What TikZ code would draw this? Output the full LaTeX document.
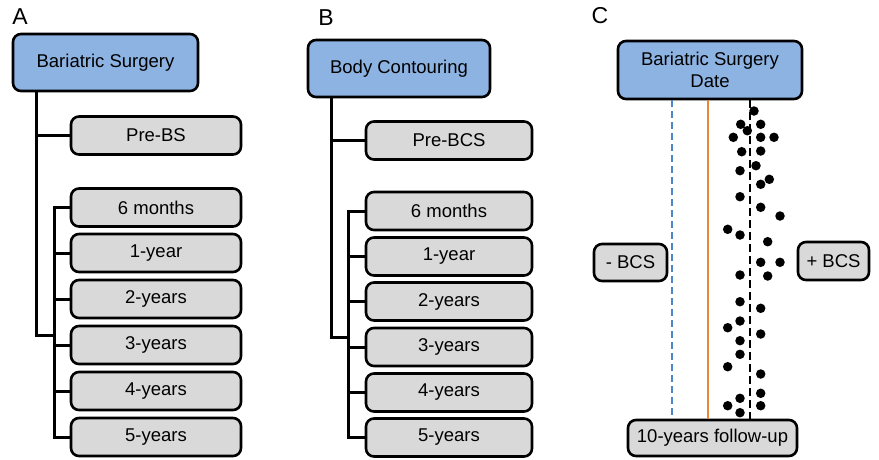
\documentclass[tikz,border=0pt]{standalone}
\usepackage{fontspec}
\setmainfont{Liberation Sans}
\definecolor{boxblue}{HTML}{8DB3E2}
\definecolor{boxgray}{HTML}{D9D9D9}
\definecolor{lineblue}{HTML}{4A86C8}
\definecolor{lineorange}{HTML}{E8873A}
\begin{document}
\begin{tikzpicture}[x=1pt,y=-1pt,
  basebox/.style={draw=black, line width=2.6pt, rounded corners=8pt, inner sep=0pt,
     font=\fontsize{18.5}{22}\selectfont, text=black},
  topbox/.style={basebox, fill=boxblue},
  graybox/.style={basebox, fill=boxgray},
  abox/.style={graybox, minimum width=170pt, minimum height=38pt},
  bbox/.style={graybox, minimum width=166pt, minimum height=38pt},
  conn/.style={line width=3pt, line join=miter},
  panellabel/.style={font=\fontsize{23}{26}\selectfont, inner sep=0pt},
  dot/.style={circle, fill=black, inner sep=0pt, minimum size=9.5pt}
]
\useasboundingbox (0,0) rectangle (879,459);

% ---------- Panel A ----------
\node[panellabel] (labA) at (20,17) {A};
\node[topbox, minimum width=185pt, minimum height=57pt] (aTop) at (105.5,62.5) {Bariatric Surgery};
\node[abox] (aPre) at (156,135.5) {Pre-BS};
\node[abox] (a6) at (156,207.5) {6 months};
\node[abox] (a1) at (156,253) {1-year};
\node[abox] (a2) at (156,299) {2-years};
\node[abox] (a3) at (156,345) {3-years};
\node[abox] (a4) at (156,391) {4-years};
\node[abox] (a5) at (156,437) {5-years};
\coordinate (aJoin) at (55,335);
\draw[conn] ([xshift=25pt]aTop.south west) |- (aJoin);
\draw[conn] (aPre.west) -- ++(-34,0);
\draw[conn] (a6.west) -- ++(-15,0) |- (a5.west);
\foreach \n in {a1,a2,a3,a4} \draw[conn] (\n.west) -- ++(-15,0);

% ---------- Panel B ----------
\node[panellabel] (labB) at (326,18) {B};
\node[topbox, minimum width=182pt, minimum height=57pt] (bTop) at (399,68.5) {Body Contouring};
\node[bbox] (bPre) at (449,140.5) {Pre-BCS};
\node[bbox] (b6) at (449,211) {6 months};
\node[bbox] (b1) at (449,256.5) {1-year};
\node[bbox] (b2) at (449,301.5) {2-years};
\node[bbox] (b3) at (449,347) {3-years};
\node[bbox] (b4) at (449,392.5) {4-years};
\node[bbox] (b5) at (449,437.5) {5-years};
\coordinate (bJoin) at (349,337);
\draw[conn] ([xshift=25pt]bTop.south west) |- (bJoin);
\draw[conn] (bPre.west) -- ++(-33,0);
\draw[conn] (b6.west) -- ++(-16,0) |- (b5.west);
\foreach \n in {b1,b2,b3,b4} \draw[conn] (\n.west) -- ++(-16,0);

% ---------- Panel C ----------
\node[panellabel] (labC) at (600,16) {C};
\node[topbox, minimum width=184pt, minimum height=58pt, align=center] (cTop) at (710,70) {Bariatric Surgery\\Date};
\node[graybox, minimum width=73pt, minimum height=37pt] (minus) at (630.5,262.5) {- BCS};
\node[graybox, minimum width=71pt, minimum height=38pt] (plus) at (833.5,261) {+ BCS};
\node[graybox, minimum width=169pt, minimum height=36pt] (fu) at (712.5,438) {10-years follow-up};

\draw[lineblue, line width=2.4pt, dash pattern=on 7pt off 4pt]
  ([xshift=-38pt]cTop.south) -- ([xshift=-38pt]cTop.south |- fu.north);
\draw[lineorange, line width=2.4pt]
  ([xshift=-2pt]cTop.south) -- ([xshift=-2pt]cTop.south |- fu.north);
\draw[black, line width=2.8pt, dash pattern=on 8pt off 4pt]
  ([xshift=40pt]cTop.south) -- ([xshift=40pt,yshift=-4pt]cTop.south |- fu.north);

\foreach \x/\y [count=\i] in {
  754/111, 740.7/124.3, 760.7/124.3, 747.3/130.7, 733.3/137.3, 760.7/137.3, 774/137.3,
  741.7/151.7, 760.7/151, 756/165.7, 740/170.7, 769.3/179.3, 760.7/184.3, 740/196.7,
  760.7/207.3, 780/216, 727.7/229.3, 740/235, 767.7/241.7, 760.7/262.3, 780/262.3,
  740/275, 767.7/276, 740/301.7, 760.7/308.3, 740/321, 727.7/327.7, 760.7/334,
  740/340.7, 740/354.3, 727.7/366.7, 760.7/374, 760.7/393.3, 740/398.3, 727.7/405.7,
  760.7/405.7, 740/412.7}
  \node[dot] (d\i) at (\x,\y) {};
\end{tikzpicture}
\end{document}
